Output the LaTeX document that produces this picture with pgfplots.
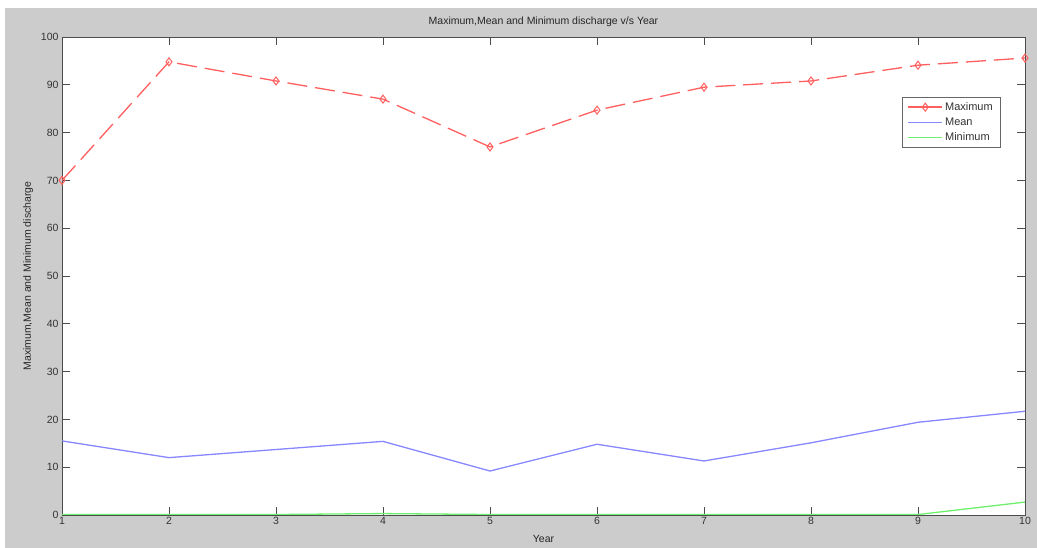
\documentclass[border=0pt]{standalone}
\usepackage{pgfplots}
\pgfplotsset{compat=1.18}
\usepackage{fontspec}
\setmainfont{Liberation Sans}
\definecolor{bgray}{RGB}{204,204,204}
\definecolor{cmax}{RGB}{255,95,95}
\definecolor{cmean}{RGB}{135,135,255}
\definecolor{cmin}{RGB}{110,240,110}
\begin{document}
\begin{tikzpicture}[x=1pt,y=1pt]
\useasboundingbox (0,0) rectangle (1037,548);
\fill[white] (0,0) rectangle (1037,548);
\fill[bgray] (5,0) rectangle (1037,540);
\begin{axis}[
  at={(62pt,33pt)}, anchor=south west,
  scale only axis, width=963pt, height=478pt,
  xmin=1, xmax=10, ymin=0, ymax=100,
  xtick={1,...,10}, ytick={0,10,...,100},
  tick align=inside, major tick length=8pt,
  axis background/.style={fill=white},
  axis line style={black!70, line width=0.8pt},
  every tick/.style={black!70, line width=0.8pt},
  tick label style={font=\fontsize{10.5}{12}\selectfont, text=black!80},
  /pgf/number format/assume math mode=true,
  title={Maximum,Mean and Minimum discharge v/s Year},
  title style={font=\fontsize{10.5}{12}\selectfont, text=black!85, at={(0.5,1)}, yshift=1pt},
  xlabel={Year}, ylabel={Maximum,Mean and Minimum discharge},
  label style={font=\fontsize{10.5}{12}\selectfont, text=black!85},
  xlabel style={yshift=-3pt},
  ylabel style={yshift=1pt},
  xticklabel style={yshift=1pt},
  legend style={at={(0.974,0.874)}, anchor=north east, draw=black!60,
    font=\fontsize{11}{13}\selectfont, text=black!80, row sep=2pt,
    inner sep=3pt, inner xsep=5pt},
  legend image code/.code={
    \draw[mark repeat=2,mark phase=2,#1] plot coordinates {(0cm,0cm) (0.6cm,0cm) (1.2cm,0cm)};},
  legend image post style={solid, line width=1.5pt},
  legend cell align=left,
]
\addplot[draw=cmax, line width=1.3pt, dash pattern=on 20pt off 8pt, mark=diamond, mark size=4pt, mark options={draw=cmax, solid, line width=1pt, fill=white}]
  coordinates {(1,70) (2,94.8) (3,90.8) (4,87) (5,77) (6,84.7) (7,89.5) (8,90.8) (9,94.1) (10,95.6)};
\addlegendentry{Maximum}
\addplot[draw=cmean, line width=1.3pt, forget plot]
  coordinates {(1,15.5) (2,12) (3,13.7) (4,15.4) (5,9.2) (6,14.8) (7,11.3) (8,15.1) (9,19.4) (10,21.7)};
\addlegendimage{draw=cmean, line width=2.2pt}
\addlegendentry{Mean}
\addplot[draw=cmin, line width=1.3pt, forget plot]
  coordinates {(1,0.1) (2,0.1) (3,0.1) (4,0.3) (5,0.1) (6,0.1) (7,0.1) (8,0.1) (9,0.1) (10,2.7)};
\addlegendimage{draw=cmin, line width=2.2pt}
\addlegendentry{Minimum}
\end{axis}
\end{tikzpicture}
\end{document}
